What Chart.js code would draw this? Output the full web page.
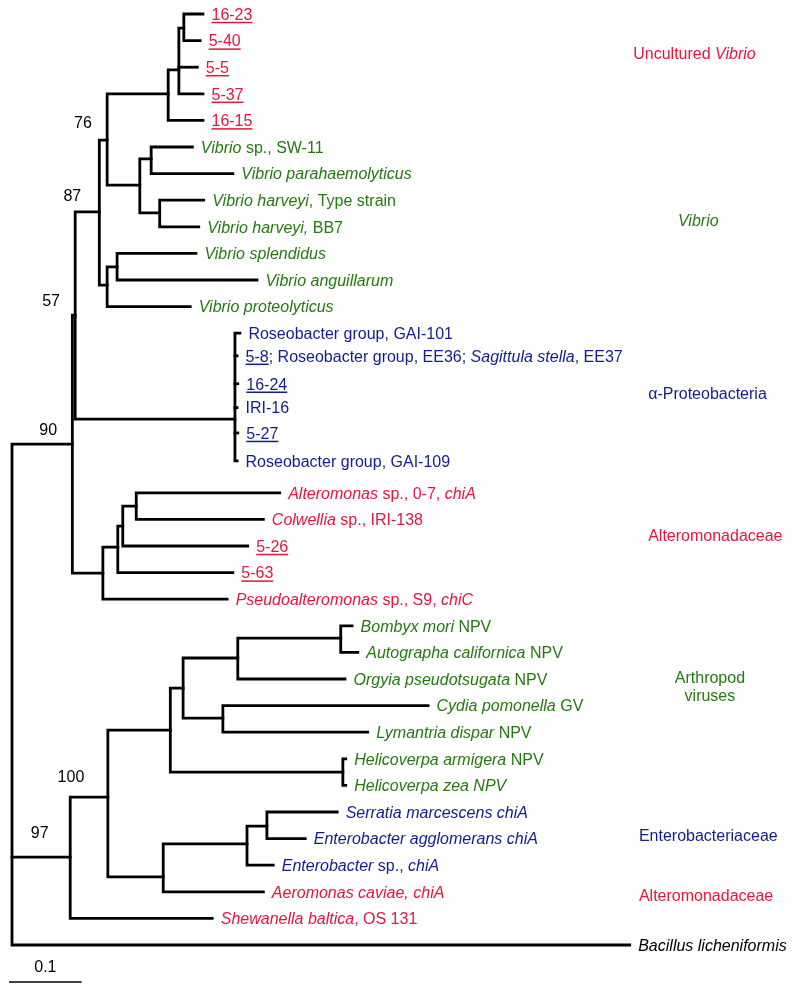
<!DOCTYPE html>
<html><head><meta charset="utf-8">
<script src="https://cdn.jsdelivr.net/npm/chart.js@4/dist/chart.umd.min.js"></script>
<style>html,body{margin:0;padding:0;background:#fff}#wrap{width:800px;height:987px;position:relative}</style>
</head><body><div id="wrap"><canvas id="c"></canvas></div>
<script>
// ---- DATA ----
// leaf labels: *...* italic, _..._ underlined
const leafLabels = [
  "_16-23_","_5-40_","_5-5_","_5-37_","_16-15_",
  "*Vibrio* sp., SW-11","*Vibrio parahaemolyticus*","*Vibrio harveyi*, Type strain","*Vibrio harveyi,* BB7",
  "*Vibrio splendidus*","*Vibrio anguillarum*","*Vibrio proteolyticus*",
  "Roseobacter group, GAI-101","_5-8_; Roseobacter group, EE36; *Sagittula stella*, EE37","_16-24_","IRI-16","_5-27_","Roseobacter group, GAI-109",
  "*Alteromonas* sp., 0-7, *chiA*","*Colwellia* sp., IRI-138","_5-26_","_5-63_","*Pseudoalteromonas* sp., S9, *chiC*",
  "*Bombyx mori* NPV","*Autographa californica* NPV","*Orgyia pseudotsugata* NPV","*Cydia pomonella* GV","*Lymantria dispar* NPV",
  "*Helicoverpa armigera* NPV","*Helicoverpa zea NPV*",
  "*Serratia marcescens chiA*","*Enterobacter agglomerans chiA*","*Enterobacter* sp., *chiA*",
  "*Aeromonas caviae, chiA*","*Shewanella baltica*, OS 131","*Bacillus licheniformis*"
];
const leafGroup = ["r","r","r","r","r","g","g","g","g","g","g","g","b","b","b","b","b","b",
  "r","r","r","r","r","g","g","g","g","g","g","g","b","b","b","r","r","k"];
// distance from root (substitutions per site) of each leaf tip
const leafDist = [0.269,0.265,0.261,0.269,0.269,0.254,0.311,0.270,0.263,0.259,0.345,0.251,
  0.321,0.317,0.318,0.317,0.318,0.317,0.377,0.354,0.332,0.311,0.303,
  0.479,0.487,0.469,0.586,0.501,0.470,0.470,0.458,0.413,0.368,0.354,0.282,0.870];
// vertical row of each leaf
const leafRow = [0,1,2,3,4,5,6,7,8,9,10,11,12,12.85,13.9,14.8,15.75,16.8,
  18,19,20,21,22,23,24,25,26,27,28,29,30,31,32,33,34,35];
// internal nodes
const nodeNames = ["A","B","C","E","F","EF","D","H","G","N87","Rose","N57","Alt1","Alt2","Alt3","Alt4","N90",
  "Bo","Or","Cy","P1","He","Arth","En1","En2","En3","N100","N97","Root"];
const nodeDist = [0.242,0.235,0.220,0.196,0.208,0.180,0.134,0.148,0.134,0.123,0.314,0.089,0.175,0.156,0.149,0.128,0.085,
  0.463,0.318,0.297,0.241,0.466,0.223,0.359,0.331,0.213,0.135,0.082,0];
const nodeRow = [0.53,2.1,3.0,5.45,7.48,6.43,4.74,9.51,10.19,7.44,15.23,11.32,18.5,19.25,20.04,21.02,16.17,
  23.46,24.21,26.47,25.34,28.5,26.92,30.53,31.2,32.44,29.44,31.7,null];
const nodeChildren = [[0,1],["A",2,3],["B",4],[5,6],[7,8],["E","F"],["C","EF"],[9,10],["H",11],["D","G"],
  [12,13,14,15,16,17],["N87","Rose"],[18,19],["Alt1",20],["Alt2",21],["Alt3",22],["N57","Alt4"],
  [23,24],["Bo",25],[26,27],["Or","Cy"],[28,29],["P1","He"],[30,31],["En1",32],["En2",33],["Arth","En3"],["N100",34],["N90","N97",35]];
// bootstrap support
const bootValues = ["76","87","57","90","100","97"];
const bootNodes = ["D","N87","N57","N90","N100","N97"];
// clade labels
const cladeLabels = ["Uncultured *Vibrio*","*Vibrio*","α-Proteobacteria","Alteromonadaceae","Arthropod|viruses","Enterobacteriaceae","Alteromonadaceae"];
const cladeGroup = ["r","g","b","r","g","b","r"];
const scaleBarLength = 0.1;
const scaleBarText = "0.1";

// ---- LAYOUT / STYLE ----
const COLORS = {r:"#e3173d", g:"#237a0f", b:"#141c8c", k:"#000000"};
const FONT_FAMILY = '"Liberation Sans", Arial, Helvetica, sans-serif';
const FONT_SIZE = 16;
const LINE_W = 2.8;
// label anchor positions (distance, row)
const bootPos = [[0.100,4.06],[0.085,6.80],[0.055,10.75],[0.051,15.6],[0.083,28.65],[0.039,30.75]];
const cladePos = [[0.875,1.47,"left"],[0.938,7.74,"left"],[0.896,14.25,"left"],[0.896,19.59,"left"],[0.983,24.92,"center"],[0.883,30.86,"left"],[0.883,33.12,"left"]];
const scaleBarPos = [-0.003, 36.39];

// ---- BUILD SEGMENTS ----
function pos(ref){
  if (typeof ref === "number") return {x: leafDist[ref], y: leafRow[ref]};
  const i = nodeNames.indexOf(ref);
  return {x: nodeDist[i], y: nodeRow[i]};
}
const datasets = [];
function seg(pts, w){
  datasets.push({data: pts, showLine: true, borderColor: "#000", borderWidth: w || LINE_W,
    pointRadius: 0, pointHoverRadius: 0, fill: false, tension: 0,
    borderJoinStyle: "miter", borderCapStyle: "square"});
}
nodeNames.forEach((n, i) => {
  const nx = nodeDist[i];
  const kids = nodeChildren[i].map(pos).sort((a,b)=>a.y-b.y);
  const top = kids[0], bot = kids[kids.length-1];
  seg([{x: top.x, y: top.y},{x: nx, y: top.y},{x: nx, y: bot.y},{x: bot.x, y: bot.y}]);
  for (let k = 1; k < kids.length-1; k++) seg([{x: nx, y: kids[k].y},{x: kids[k].x, y: kids[k].y}]);
});
// scale bar
seg([{x: scaleBarPos[0], y: scaleBarPos[1]},{x: scaleBarPos[0]+scaleBarLength, y: scaleBarPos[1]}], 1.6);

// ---- TEXT PLUGIN ----
function parse(str){
  const out = []; let it = false, ul = false, buf = "";
  for (const ch of str){
    if (ch === "*" || ch === "_"){
      if (buf) out.push({t: buf, it, ul}); buf = "";
      if (ch === "*") it = !it; else ul = !ul;
    } else buf += ch;
  }
  if (buf) out.push({t: buf, it, ul});
  return out;
}
function fontOf(it){ return (it ? "italic " : "") + FONT_SIZE + "px " + FONT_FAMILY; }
function drawRich(ctx, str, x, y, color, align){
  const parts = parse(str);
  let total = 0;
  parts.forEach(p => { ctx.font = fontOf(p.it); p.w = ctx.measureText(p.t).width; total += p.w; });
  let cx = align === "center" ? x - total/2 : x;
  const base = y + FONT_SIZE*0.36;
  parts.forEach(p => {
    ctx.font = fontOf(p.it);
    ctx.fillStyle = color;
    ctx.textBaseline = "alphabetic";
    ctx.textAlign = "left";
    ctx.fillText(p.t, cx, base);
    if (p.ul){
      ctx.fillRect(cx, base + 2, p.w, 1.5);
    }
    cx += p.w;
  });
}
const textPlugin = {
  id: "treeText",
  afterDatasetsDraw(chart){
    const ctx = chart.ctx, xs = chart.scales.x, ys = chart.scales.y;
    ctx.save();
    leafLabels.forEach((lab, i) => {
      drawRich(ctx, lab, xs.getPixelForValue(leafDist[i]) + 8.5, ys.getPixelForValue(leafRow[i]), COLORS[leafGroup[i]], "left");
    });
    bootValues.forEach((v, i) => {
      drawRich(ctx, v, xs.getPixelForValue(bootPos[i][0]), ys.getPixelForValue(bootPos[i][1]), "#000", "center");
    });
    cladeLabels.forEach((lab, i) => {
      const lines = lab.split("|");
      lines.forEach((ln, j) => {
        drawRich(ctx, ln, xs.getPixelForValue(cladePos[i][0]), ys.getPixelForValue(cladePos[i][1]) + j*18, COLORS[cladeGroup[i]], cladePos[i][2]);
      });
    });
    drawRich(ctx, scaleBarText, xs.getPixelForValue(scaleBarPos[0] + scaleBarLength/2), ys.getPixelForValue(scaleBarPos[1]) - 16, "#000", "center");
    ctx.restore();
  }
};

new Chart(document.getElementById("c"), {
  type: "scatter",
  data: {datasets},
  options: {
    responsive: true, maintainAspectRatio: false, animation: false,
    layout: {padding: 0},
    plugins: {legend: {display: false}, tooltip: {enabled: false}},
    events: [],
    scales: {
      x: {type: "linear", display: false, min: -12/710, max: -12/710 + 800/710},
      y: {type: "linear", display: false, reverse: true, min: -14/26.6, max: -14/26.6 + 987/26.6}
    }
  },
  plugins: [textPlugin]
});
</script></body></html>
